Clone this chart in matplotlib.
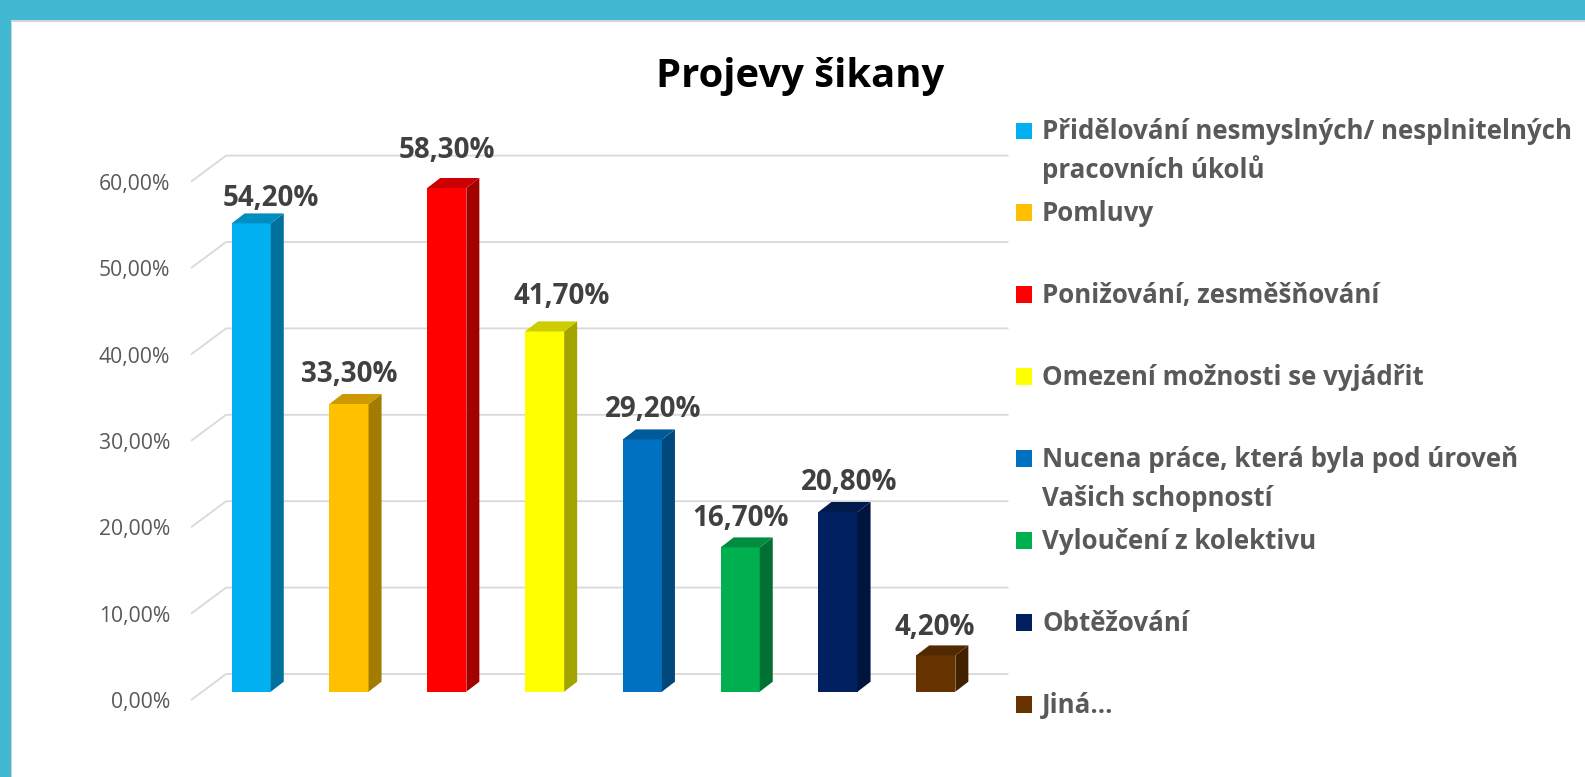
import matplotlib
matplotlib.use("Agg")
import matplotlib.pyplot as plt
from matplotlib.patches import Polygon, Rectangle
from matplotlib.colors import to_rgb

plt.rcParams['font.family'] = ['Open Sans', 'DejaVu Sans']

# --- chart data ---
categories = [
    "Přidělování nesmyslných/ nesplnitelných\npracovních úkolů",
    "Pomluvy",
    "Ponižování, zesměšňování",
    "Omezení možnosti se vyjádřit",
    "Nucena práce, která byla pod úroveň\nVašich schopností",
    "Vyloučení z kolektivu",
    "Obtěžování",
    "Jiná...",
]
values = [54.2, 33.3, 58.3, 41.7, 29.2, 16.7, 20.8, 4.2]
colors = ['#00B0F0', '#FFC000', '#FF0000', '#FFFF00',
          '#0070C0', '#00B050', '#002060', '#663300']
yticks = [0, 10, 20, 30, 40, 50, 60]

# data label nudges in pixels (x shift, gap above the bar's front top)
label_dx = [20, 0, 0, 17, 11, 0, 11, -1]
label_gap = [17, 22, 30, 27, 22, 21, 22, 20]

W, H = 1585, 777
fig = plt.figure(figsize=(W / 100, H / 100), dpi=100, facecolor='white')

# main axes = plane of the bar fronts
ax = fig.add_axes([202.3 / W, (H - 691.7) / H, 782.4 / W, 518.4 / H])
ax.set_xlim(-0.5, len(values) - 0.5)
ax.set_ylim(0, 60)
ax.axis('off')

# pixels per data unit, used for the fake 3d depth
sx = ax.bbox.width / len(values)
sy = ax.bbox.height / 60


def px(dx, dy):
    return dx / sx, dy / sy


# gridlines on the back wall + floor diagonals
bdx, bdy = px(23.8, 17.7)
fdx, fdy = px(-11.2, -8.3)
grid_col = '#D9D9D9'
for t in yticks:
    ax.plot([-0.5 + fdx, -0.5 + bdx, len(values) - 0.5 + bdx],
            [t + fdy, t + bdy, t + bdy],
            color=grid_col, lw=1.3, clip_on=False, zorder=1,
            solid_capstyle='butt')
    lx, ly = px(-32, -16.5)
    ax.text(-0.5 + lx, t + ly, f"{t:.2f}".replace('.', ',') + '%',
            ha='right', va='baseline', fontsize=15.2, color='#595959')

# bars with side and top faces
w = 0.4
x = list(range(len(values)))
ax.bar(x, values, width=w, color=colors, zorder=3)
ddx, ddy = px(13, 10)
for i, v in enumerate(values):
    c = to_rgb(colors[i])
    side = tuple(ch * 0.64 for ch in c)
    top = tuple(ch * 0.8 for ch in c)
    r = x[i] + w / 2
    l = x[i] - w / 2
    ax.add_patch(Polygon([(r, 0), (r + ddx, ddy), (r + ddx, v + ddy), (r, v)],
                         closed=True, facecolor=side, edgecolor='none',
                         zorder=3, clip_on=False))
    ax.add_patch(Polygon([(l, v), (r, v), (r + ddx, v + ddy), (l + ddx, v + ddy)],
                         closed=True, facecolor=top, edgecolor='none',
                         zorder=3, clip_on=False))
    ox, oy = px(label_dx[i], label_gap[i])
    ax.text(x[i] + ox, v + oy, f"{v:.2f}".replace('.', ',') + '%',
            ha='center', va='baseline', fontsize=20, fontweight='bold',
            color='#404040', zorder=5, clip_on=False)

# overlay in pixel coords for frame, title and legend
lax = fig.add_axes([0, 0, 1, 1])
lax.set_xlim(0, W)
lax.set_ylim(H, 0)
lax.axis('off')

teal = '#42B9D3'
lax.add_patch(Rectangle((0, 0), W, 21.5, color='#D4D4D4', lw=0))
lax.add_patch(Rectangle((0, 0), 12, H, color='#D4D4D4', lw=0))
lax.add_patch(Rectangle((0, 0), W, 20, color=teal, lw=0))
lax.add_patch(Rectangle((0, 0), 10.5, H, color=teal, lw=0))

lax.text(799.7, 87.5, 'Projevy šikany', ha='center', va='baseline',
         fontsize=28.8, fontweight='bold', color='black')

# legend
for i, name in enumerate(categories):
    cy = 130.7 + 81.97 * i
    lax.add_patch(Rectangle((1016, cy - 8.2), 16.4, 16.4,
                            color=colors[i], lw=0))
    for j, line in enumerate(name.split('\n')):
        lax.text(1042, cy + 8.6 + 39 * j, line, ha='left', va='baseline',
                 fontsize=18.6, fontweight='bold', color='#595959')

fig.savefig('out.png', dpi=100, facecolor='white')
